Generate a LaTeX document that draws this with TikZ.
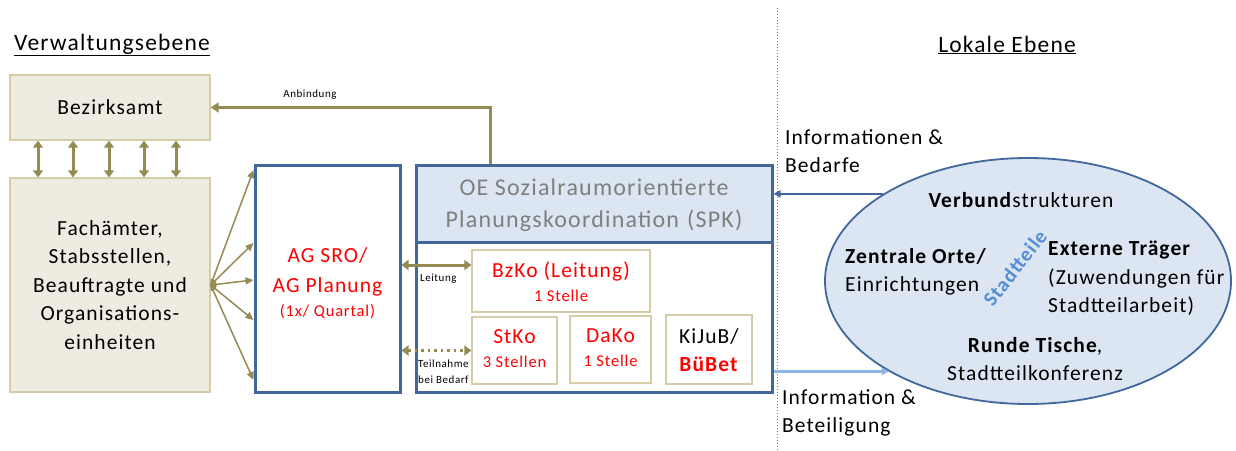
\documentclass[tikz,border=0pt]{standalone}
\usepackage{fontspec}
\setmainfont{Carlito}[LetterSpace=5]
\usetikzlibrary{arrows.meta,shapes.geometric,calc}
\definecolor{beigefill}{HTML}{EEECE1}
\definecolor{beigeline}{HTML}{D5CCA8}
\definecolor{olive}{HTML}{948A54}
\definecolor{bluebox}{HTML}{41679B}
\definecolor{lightfill}{HTML}{DCE6F2}
\definecolor{stadtblue}{HTML}{558ED5}
\definecolor{infolight}{HTML}{8EB4E3}
\definecolor{graytext}{HTML}{7F7F7F}
\definecolor{redtext}{HTML}{FF0000}
\tikzset{
  beigebox/.style={draw=beigeline, fill=beigefill, line width=1.4pt, align=center, font=\fontsize{21.5}{28.5}\selectfont},
  bluerect/.style={draw=bluebox, line width=3pt},
  tanbox/.style={draw=beigeline, line width=1.3pt, fill=white},
  boxtext/.style={align=center, inner sep=0pt},
  olivearrow/.style={draw=olive, line width=3pt, {Triangle[length=7pt,width=10pt]}-{Triangle[length=7pt,width=10pt]}},
  fanarrow/.style={draw=olive, line width=1.5pt, -{Triangle[length=8pt,width=7pt]}},
  smalllabel/.style={font=\fontsize{11}{16}\selectfont, inner sep=0pt},
  maintext/.style={font=\fontsize{21.5}{28.5}\selectfont, inner sep=0pt, align=left},
}
\begin{document}
\begin{tikzpicture}[x=1pt,y=-1pt]
\useasboundingbox (0,0) rectangle (1236,450);
% headings
\node[anchor=west, font=\fontsize{23.5}{28}\selectfont, inner sep=0pt] (hv) at (14,45) {\underline{Verwaltungsebene}};
\node[font=\fontsize{23.5}{28}\selectfont, inner sep=0pt] (hl) at (1007,45) {\underline{Lokale Ebene}};
% divider
\draw[dotted, gray, line width=1pt] (777,8) -- (777,450);
% left boxes
\node[beigebox, minimum width=200pt, minimum height=65pt] (bez) at (110,107.5) {Bezirksamt};
\node[beigebox, minimum width=200pt, minimum height=214pt] (fach) at (110,285) {Fachämter,\\Stabsstellen,\\Beauftragte und\\Organisations-\\einheiten};
\foreach \dx in {-72,-37,-1,34,66}
  \draw[olivearrow] ([xshift=\dx pt]bez.south) -- ([xshift=\dx pt]fach.south |- fach.north);
% AG box
\node[bluerect, minimum width=145pt, minimum height=227pt] (ag) at (327.5,278.5) {};
\node[boxtext, text=redtext, font=\fontsize{21.5}{30}\selectfont] (agtext) at (327.5,283)
  {AG SRO/\\AG Planung\\[-6pt]{\fontsize{16.5}{20}\selectfont (1x/ Quartal)}};
% fan arrows
\coordinate (src) at (fach.east);
\fill[olive] (src) ++(0,-6) arc[start angle=90, end angle=-90, radius=6pt] -- cycle;
\foreach \dy in {108.5,35.5,-1.5,-41.5,-101.5}
  \draw[fanarrow] (src) -- ([yshift=\dy pt]ag.west);
% OE box
\node[bluerect, minimum width=356pt, minimum height=227pt] (oe) at (594,278.5) {};
\node[bluerect, fill=lightfill, minimum width=356pt, minimum height=77pt] (oehead) at (594,203.5) {};
\node[boxtext, text=graytext, font=\fontsize{24}{32}\selectfont] (oetext) at (594,205)
  {OE Sozialraumorientierte\\Planungskoordination\,\,(SPK)};
% inner boxes
\node[tanbox, minimum width=178pt, minimum height=62pt] (bzko) at (561,281) {};
\node[boxtext, text=redtext, font=\fontsize{16.5}{24}\selectfont] (bzkotext) at (561,282)
  {{\fontsize{21.5}{26}\selectfont BzKo (Leitung)}\\1 Stelle};
\node[tanbox, minimum width=85pt, minimum height=67pt] (stko) at (514.5,350.5) {};
\node[boxtext, text=redtext, font=\fontsize{16.5}{24}\selectfont] (stkotext) at (514.5,349)
  {{\fontsize{21.5}{26}\selectfont StKo}\\3 Stellen};
\node[tanbox, minimum width=81pt, minimum height=67pt] (dako) at (610.5,349.5) {};
\node[boxtext, text=redtext, font=\fontsize{16.5}{24}\selectfont] (dakotext) at (610.5,348)
  {{\fontsize{21.5}{26}\selectfont DaKo}\\1 Stelle};
\node[tanbox, minimum width=86pt, minimum height=69pt] (kijub) at (709,349.5) {};
\node[boxtext, font=\fontsize{21.5}{28}\selectfont] (kijubtext) at (709,350)
  {KiJuB/\\\textcolor{redtext}{\textbf{BüBet}}};
% Anbindung
\draw[draw=olive, line width=3pt, -{Triangle[length=8pt,width=10pt]}] ([xshift=-104pt]oehead.north) |- (bez.east);
\node[smalllabel] (anb) at (310,95) {Anbindung};
% Leitung
\path ([yshift=16pt]bzko.west) coordinate (lt);
\draw[olivearrow] (ag.east |- lt) -- (lt);
\node[smalllabel, anchor=west] (leit) at (420,279) {Leitung};
% Teilnahme
\draw[draw=olive, line width=3pt, dash pattern=on 2.5pt off 4pt, {Triangle[length=7pt,width=10pt]}-{Triangle[length=7pt,width=10pt]}] (ag.east |- stko.west) -- (stko.west);
\node[smalllabel, anchor=west, align=left] (teil) at (418,372) {Teilnahme\\bei Bedarf};
% ellipse
\node[ellipse, draw=bluebox, line width=1.8pt, fill=lightfill, minimum width=406pt, minimum height=246pt] (ell) at (1028,281) {};
\draw[draw=bluebox, line width=2.6pt, -{Triangle[length=7pt,width=7pt]}] (ell.149) -- (oe.east |- ell.149);
\draw[draw=infolight, line width=2.6pt, -{Triangle[length=7pt,width=7pt]}] (oe.east |- ell.213) -- (ell.213);
\node[maintext, anchor=west] (infoa) at (785,151) {Informationen \&\\Bedarfe};
\node[maintext, anchor=west] (infob) at (782,413) {Information \&\\Beteiligung};
% ellipse texts
\node[maintext] (verb) at (1021,200) {\textbf{Verbund}strukturen};
\node[maintext, anchor=west] (zent) at (845,272) {\textbf{Zentrale Orte/}\\Einrichtungen};
\node[maintext, anchor=west] (ext) at (1048,278.5) {\textbf{Externe Träger}\\(Zuwendungen für\\Stadtteilarbeit)};
\node[maintext, align=center] (rund) at (1035,359) {\textbf{Runde Tische},\\Stadtteilkonferenz};
\node[font=\bfseries\fontsize{20.5}{24}\selectfont, text=stadtblue, rotate=52, inner sep=0pt] (stadt) at (1015,268) {Stadtteile};
\end{tikzpicture}
\end{document}
